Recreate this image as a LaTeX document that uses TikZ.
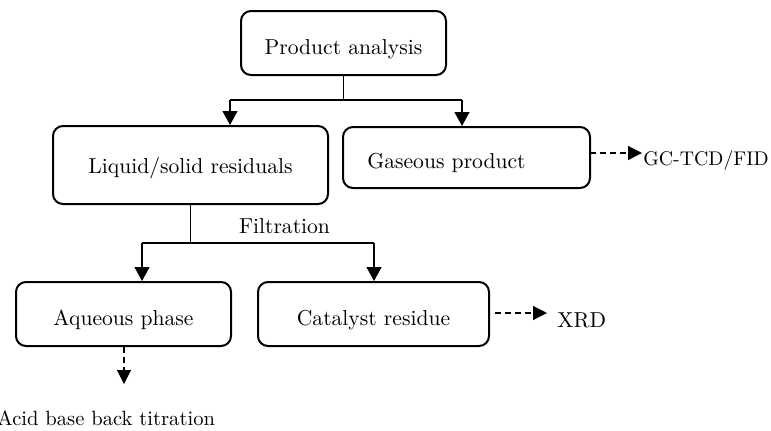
\documentclass[tikz,border=0pt]{standalone}
\usetikzlibrary{arrows.meta}
\begin{document}
\begin{tikzpicture}[x=0.5pt,y=-0.5pt,
  box/.style={draw, line width=1pt, rounded corners=5pt, inner sep=0pt, text height=11pt, text depth=0pt, font=\fontsize{10.8}{13}\selectfont},
  lbl/.style={inner sep=0pt, font=\fontsize{10.8}{13}\selectfont},
  conn/.style={line width=0.6pt},
  arr/.style={line width=0.6pt, -{Triangle[length=7pt,width=7.5pt]}},
  darr/.style={line width=0.6pt, dash pattern=on 3pt off 2pt, -{Triangle[length=7pt,width=7pt]}}]
\useasboundingbox (0,0) rectangle (771,430);
% boxes
\node[box, minimum width=102.5pt, minimum height=32pt] (prod) at (343.5,43) {Product analysis};
\node[box, minimum width=137.5pt, minimum height=39pt, text height=8pt] (liq) at (190.5,165) {Liquid/solid residuals};
\node[box, minimum width=123.5pt, minimum height=30.5pt] (gas) at (466.5,157.5) {Gaseous product\hspace*{20pt}};
\node[box, minimum width=107.5pt, minimum height=32pt] (aq) at (123.5,314) {Aqueous phase};
\node[box, minimum width=115.5pt, minimum height=32pt] (cat) at (373.5,314) {Catalyst residue};
% labels
\node[lbl, anchor=base] (filt) at (284.5,233) {Filtration};
\node[lbl, anchor=base west, font=\fontsize{9.9}{12}\selectfont] (gc) at (643,165) {GC-TCD/FID};
\node[lbl, anchor=base west] (xrd) at (557,327) {XRD};
\node[lbl, anchor=base west, font=\fontsize{10.3}{12}\selectfont] (acid) at (-3,425) {Acid base back titration};
% junctions
\coordinate (b1) at (230,100);
\coordinate (b2) at (462,100);
\coordinate (f1) at (142,243);
\coordinate (f2) at (374,243);
\coordinate (gcs) at (590,153);
\coordinate (gce) at (642,153);
\coordinate (xs) at (495,313);
\coordinate (xe) at (547,313);
\coordinate (ae) at (124,384);
% connectors
\draw[conn] (prod.south) -- (prod.south |- b1);
\draw[conn] (b1) -- (b2);
\draw[arr] (b1) -- (b1 |- liq.north);
\draw[arr] (b2) -- (b2 |- gas.north);
\draw[conn] (liq.south) -- (liq.south |- f1);
\draw[conn] (f1) -- (f2);
\draw[arr] (f1) -- (f1 |- aq.north);
\draw[arr] (f2) -- (f2 |- cat.north);
\draw[darr] (gcs) -- (gce);
\draw[darr] (xs) -- (xe);
\draw[darr] (ae |- aq.south) -- (ae);
\end{tikzpicture}
\end{document}
